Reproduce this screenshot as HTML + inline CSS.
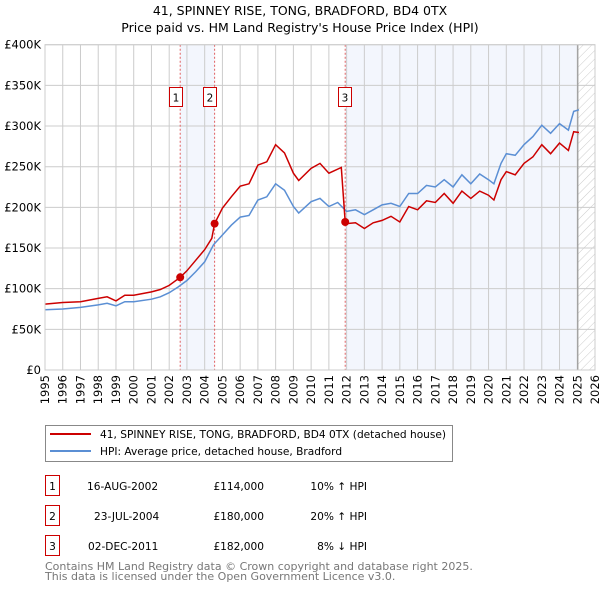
<!DOCTYPE html>
<html><head><meta charset="utf-8"><style>
body{margin:0;background:#fff;font-family:"DejaVu Sans","Liberation Sans",sans-serif;}
svg text{font-family:"DejaVu Sans","Liberation Sans",sans-serif;}
</style></head><body>
<svg id="c" width="600" height="590" xmlns="http://www.w3.org/2000/svg">
<defs><pattern id="hatch" width="6" height="6" patternUnits="userSpaceOnUse" patternTransform="rotate(45)"><line x1="0" y1="0" x2="0" y2="6" stroke="#ccc" stroke-width="1"/></pattern></defs>
<text x="300" y="15" text-anchor="middle" font-size="12.5">41, SPINNEY RISE, TONG, BRADFORD, BD4 0TX</text>
<text x="300" y="32" text-anchor="middle" font-size="12.5">Price paid vs. HM Land Registry's House Price Index (HPI)</text>
<g id="plot"></g>
<g>
<rect x="45.5" y="425.5" width="407" height="36" fill="#fff" stroke="#888"/>
<line x1="50" y1="434" x2="91" y2="434" stroke="#cc0000" stroke-width="2"/>
<text x="100" y="438" font-size="10.6">41, SPINNEY RISE, TONG, BRADFORD, BD4 0TX (detached house)</text>
<line x1="50" y1="451" x2="91" y2="451" stroke="#5b8fd4" stroke-width="2"/>
<text x="100" y="455" font-size="10.6">HPI: Average price, detached house, Bradford</text>
</g>
<g font-size="10.6">
<rect x="45.5" y="475.5" width="14" height="20" fill="none" stroke="#cc0000"/><text x="52.5" y="490" text-anchor="middle">1</text>
<text x="87" y="490">16-AUG-2002</text><text x="264" y="490" text-anchor="end">£114,000</text><text x="367" y="490" text-anchor="end">10% ↑ HPI</text>
<rect x="45.5" y="505.5" width="14" height="20" fill="none" stroke="#cc0000"/><text x="52.5" y="520" text-anchor="middle">2</text>
<text x="94" y="520">23-JUL-2004</text><text x="264" y="520" text-anchor="end">£180,000</text><text x="367" y="520" text-anchor="end">20% ↑ HPI</text>
<rect x="45.5" y="535.5" width="14" height="20" fill="none" stroke="#cc0000"/><text x="52.5" y="550" text-anchor="middle">3</text>
<text x="88" y="550">02-DEC-2011</text><text x="264" y="550" text-anchor="end">£182,000</text><text x="367" y="550" text-anchor="end">8% ↓ HPI</text>
</g>
<text x="45" y="570" font-size="11" fill="#777">Contains HM Land Registry data © Crown copyright and database right 2025.</text>
<text x="45" y="580" font-size="11" fill="#777">This data is licensed under the Open Government Licence v3.0.</text>
</svg>
<script>
const hpiYears=[1995,1996,1997,1998,1998.5,1999,1999.5,2000,2001,2001.5,2002,2002.5,2003,2003.5,2004,2004.5,2005,2005.5,2006,2006.5,2007,2007.5,2008,2008.5,2009,2009.3,2010,2010.5,2011,2011.5,2012,2012.5,2013,2013.5,2014,2014.5,2015,2015.5,2016,2016.5,2017,2017.5,2018,2018.5,2019,2019.5,2020,2020.3,2020.7,2021,2021.5,2022,2022.5,2023,2023.5,2024,2024.5,2024.8,2025.1];
const hpiValues=[74,75,77,80,82,79,84,84,87,90,95,102,110,121,133,154,166,178,188,190,209,213,229,221,201,193,207,211,201,206,195,197,191,197,203,205,201,217,217,227,225,234,225,240,229,241,234,229,254,266,264,277,287,301,291,303,295,318,320];
const priceYears=[1995,1996,1997,1998,1998.5,1999,1999.5,2000,2001,2001.5,2002,2002.62,2003,2003.5,2004,2004.4,2004.56,2005,2005.5,2006,2006.5,2007,2007.5,2008,2008.5,2009,2009.3,2010,2010.5,2011,2011.7,2011.92,2012,2012.5,2013,2013.5,2014,2014.5,2015,2015.5,2016,2016.5,2017,2017.5,2018,2018.5,2019,2019.5,2020,2020.3,2020.7,2021,2021.5,2022,2022.5,2023,2023.5,2024,2024.5,2024.8,2025.1];
const priceValues=[81,83,84,88,90,85,92,92,96,99,104,114,122,135,148,162,180,199,213,226,229,252,256,277,267,242,233,248,254,242,249,182,180,181,174,181,184,189,182,201,197,208,206,217,205,220,211,220,215,209,234,244,240,254,262,277,266,279,270,293,292];
const saleYears=[2002.62,2004.56,2011.92];
const saleValues=[114,180,182];
const saleLabels=["1","2","3"];
const yTicks=[0,50,100,150,200,250,300,350,400];
const yTickLabels=["£0","£50K","£100K","£150K","£200K","£250K","£300K","£350K","£400K"];
const xTicks=[1995,1996,1997,1998,1999,2000,2001,2002,2003,2004,2005,2006,2007,2008,2009,2010,2011,2012,2013,2014,2015,2016,2017,2018,2019,2020,2021,2022,2023,2024,2025,2026];
const dataEnd=2025.03;

const NS="http://www.w3.org/2000/svg";
const X0=45,X1=595,Y0=370,Y1=44.7;
const xs=y=>X0+(y-1995)/(2026-1995)*(X1-X0);
const ys=v=>Y0-v/400*(Y0-Y1);
const g=document.getElementById('plot');
function mk(t,a,p){const e=document.createElementNS(NS,t);for(const k in a)e.setAttribute(k,a[k]);(p||g).appendChild(e);return e;}
let e;
e=mk('rect',{x:X0,y:Y1,width:X1-X0,height:Y0-Y1,fill:'#fff'});


e=mk('rect',{x:xs(saleYears[0]),y:Y1,width:xs(saleYears[1])-xs(saleYears[0]),height:Y0-Y1,fill:'#f3f6fd'});


e=mk('rect',{x:xs(saleYears[2]),y:Y1,width:xs(dataEnd)-xs(saleYears[2]),height:Y0-Y1,fill:'#f3f6fd'});


e=mk('rect',{x:xs(dataEnd),y:Y1,width:X1-xs(dataEnd),height:Y0-Y1,fill:'url(#hatch)'});


xTicks.forEach(t=>{e=mk('line',{x1:xs(t),x2:xs(t),y1:Y1,y2:Y0,stroke:'#ccc','stroke-width':1});


e=mk('text',{transform:`translate(${xs(t)+4},${Y0+5}) rotate(-90)`,'text-anchor':'end','font-size':11.5});
e.textContent=t;

});
yTicks.forEach((t,i)=>{e=mk('line',{x1:X0,x2:X1,y1:ys(t),y2:ys(t),stroke:'#ccc','stroke-width':1});


e=mk('text',{x:X0-4,y:ys(t)+4,'text-anchor':'end','font-size':11.5});
e.textContent=yTickLabels[i];

});
e=mk('line',{x1:xs(dataEnd),x2:xs(dataEnd),y1:Y1,y2:Y0,stroke:'#999','stroke-width':1.2});


saleYears.forEach((s,i)=>{e=mk('line',{x1:xs(s),x2:xs(s),y1:Y1,y2:Y0,stroke:'#e06060','stroke-width':1,'stroke-dasharray':'2,2'});

});
const pts=(xa,va)=>xa.map((y,i)=>xs(y).toFixed(1)+','+ys(va[i]).toFixed(1)).join(' ');
e=mk('polyline',{points:pts(hpiYears,hpiValues),fill:'none',stroke:'#5b8fd4','stroke-width':1.5});


e=mk('polyline',{points:pts(priceYears,priceValues),fill:'none',stroke:'#cc0000','stroke-width':1.5});


const boxOff=[11,11.5,7.5];
saleYears.forEach((s,i)=>{e=mk('circle',{cx:xs(s),cy:ys(saleValues[i]),r:4,fill:'#cc0000'});


const bx=Math.round(xs(s)-boxOff[i]);
e=mk('rect',{x:bx+0.5,y:87.5,width:13,height:19,fill:'#fff',stroke:'#cc0000'});


e=mk('text',{x:bx+7,y:101.5,'text-anchor':'middle','font-size':10.5});
e.textContent=saleLabels[i];

});
e=mk('rect',{x:X0,y:Y1,width:X1-X0,height:Y0-Y1,fill:'none',stroke:'#ccc'});


</script>
</body></html>
